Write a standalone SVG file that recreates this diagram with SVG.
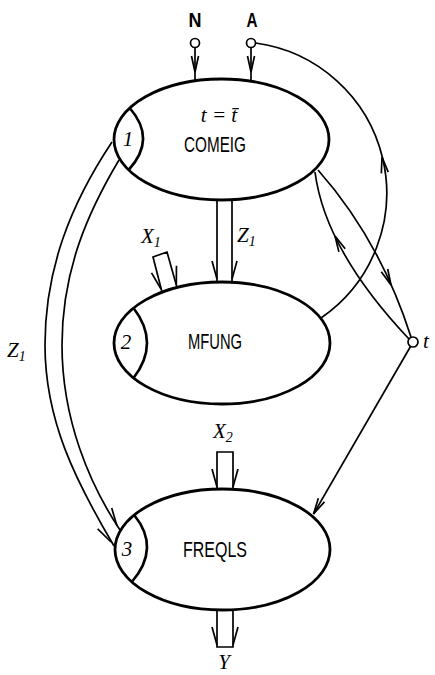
<svg xmlns="http://www.w3.org/2000/svg" xmlns:xlink="http://www.w3.org/1999/xlink" width="435" height="675" viewBox="0 0 435 675">
<style>
.node{fill:#fff;stroke:#000;stroke-width:2.8}
.cap{fill:none;stroke:#000;stroke-width:2.6}
.ln{fill:none;stroke:#000;stroke-width:1.7}
.pin{fill:#fff;stroke:#000;stroke-width:1.7}
.nm{font-family:"Liberation Sans",Arial,sans-serif;font-size:22px;text-anchor:middle;fill:#000}
.lb{font-family:"Liberation Serif","Times New Roman",serif;font-style:italic;font-size:21px;fill:#000}
.sb{font-family:"Liberation Serif","Times New Roman",serif;font-style:italic;font-size:14px;fill:#000}
.io{font-family:"Liberation Sans",Arial,sans-serif;font-weight:bold;font-size:20px;text-anchor:middle;fill:#000}
</style>
<defs>
<path id="ah" d="M -3.5 -16 L 0 0 L 3.5 -16" fill="none" stroke="#000" stroke-width="1.7"/>
<path id="hl" d="M -5 -18 L 0 0" fill="none" stroke="#000" stroke-width="1.7"/>
<path id="hr" d="M 5 -18 L 0 0" fill="none" stroke="#000" stroke-width="1.7"/>
</defs>
<g id="connectors">
<line class="ln" x1="195" y1="47.5" x2="195" y2="81"/>
<use xlink:href="#ah" transform="translate(195,72)"/>
<line class="ln" x1="251" y1="47.5" x2="251" y2="81"/>
<use xlink:href="#ah" transform="translate(251,72)"/>
<path class="ln" d="M 321 318 A 151.5 151.5 0 0 0 255.5 43"/>
<use xlink:href="#ah" transform="translate(382,157) rotate(170)"/>
<path class="ln" d="M 315 172 Q 325 250 409 339"/>
<use xlink:href="#ah" transform="translate(335,236) rotate(154)"/>
<path class="ln" d="M 318 170 Q 380 240 411 337"/>
<use xlink:href="#ah" transform="translate(391,285) rotate(-24)"/>
<line class="ln" x1="410.5" y1="346.5" x2="313.5" y2="514"/>
<use xlink:href="#ah" transform="translate(313.5,514) rotate(29.6)"/>
<line class="ln" x1="217" y1="200" x2="217" y2="282"/>
<line class="ln" x1="232" y1="200" x2="232" y2="282"/>
<use xlink:href="#hl" transform="translate(217,279)"/>
<use xlink:href="#hr" transform="translate(232,279)"/>
<path class="ln" d="M 162 292 L 153 257 L 167 252 L 177 287.5"/>
<use xlink:href="#hl" transform="translate(161,289) rotate(-15)"/>
<use xlink:href="#hr" transform="translate(176.3,284.5) rotate(-15)"/>
<path class="ln" d="M 217 489.5 L 217 452 L 233 452 L 233 489.5"/>
<use xlink:href="#hl" transform="translate(217,487)"/>
<use xlink:href="#hr" transform="translate(233,487)"/>
<path class="ln" d="M 217 609 L 217 647 L 233 647 L 233 609"/>
<use xlink:href="#hl" transform="translate(217,645)"/>
<use xlink:href="#hr" transform="translate(233,645)"/>
<path class="ln" d="M 112 142 C 70 205 45 270 45 345 S 75 480 114 546"/>
<path class="ln" d="M 119 160 C 88 212 62 270 62 345 S 90 485 120 530"/>
<use xlink:href="#hl" transform="translate(111,542) rotate(-30)"/>
<use xlink:href="#hr" transform="translate(117,526) rotate(-32)"/>
</g>
<g id="node-comeig">
<ellipse class="node" cx="221.5" cy="139.5" rx="107.5" ry="60.5"/>
<path class="cap" d="M 129.7 108 Q 157 139 128.6 170"/>
<text class="lb" x="128" y="146" font-size="17" text-anchor="middle">1</text>
<text class="lb" x="219" y="122" font-size="23" text-anchor="middle">t = t̄</text>
<text class="nm" x="215" y="152" textLength="62" lengthAdjust="spacingAndGlyphs">COMEIG</text>
</g>
<g id="node-mfung">
<ellipse class="node" cx="222" cy="343" rx="108" ry="61"/>
<path class="cap" d="M 133.5 308 Q 160.5 343 133.5 378"/>
<text class="lb" x="126" y="349" font-size="17" text-anchor="middle">2</text>
<text class="nm" x="215" y="349" textLength="54" lengthAdjust="spacingAndGlyphs">MFUNG</text>
</g>
<g id="node-freqls">
<ellipse class="node" cx="222.5" cy="549.5" rx="107.5" ry="60.5"/>
<path class="cap" d="M 134.2 515 Q 161 548 131.8 582"/>
<text class="lb" x="127" y="556" font-size="17" text-anchor="middle">3</text>
<text class="nm" x="215" y="557" textLength="64" lengthAdjust="spacingAndGlyphs">FREQLS</text>
</g>
<g id="input-n">
<circle class="pin" cx="195" cy="43" r="4.5"/>
<text class="io" x="195" y="27" textLength="13" lengthAdjust="spacingAndGlyphs">N</text>
</g>
<g id="input-a">
<circle class="pin" cx="251" cy="43" r="4.5"/>
<text class="io" x="252" y="27" textLength="11" lengthAdjust="spacingAndGlyphs">A</text>
</g>
<g id="node-t">
<circle class="pin" cx="413" cy="342" r="5"/>
<text class="lb" x="423" y="348">t</text>
</g>
<g id="labels">
<text class="lb" x="141" y="243">X<tspan class="sb" dy="4">1</tspan></text>
<text class="lb" x="237" y="242">Z<tspan class="sb" dy="4">1</tspan></text>
<text class="lb" x="7" y="357">Z<tspan class="sb" dy="4">1</tspan></text>
<text class="lb" x="213" y="438">X<tspan class="sb" dy="4">2</tspan></text>
<text class="lb" x="224" y="669" font-size="19" text-anchor="middle">Y</text>
</g>
</svg>
